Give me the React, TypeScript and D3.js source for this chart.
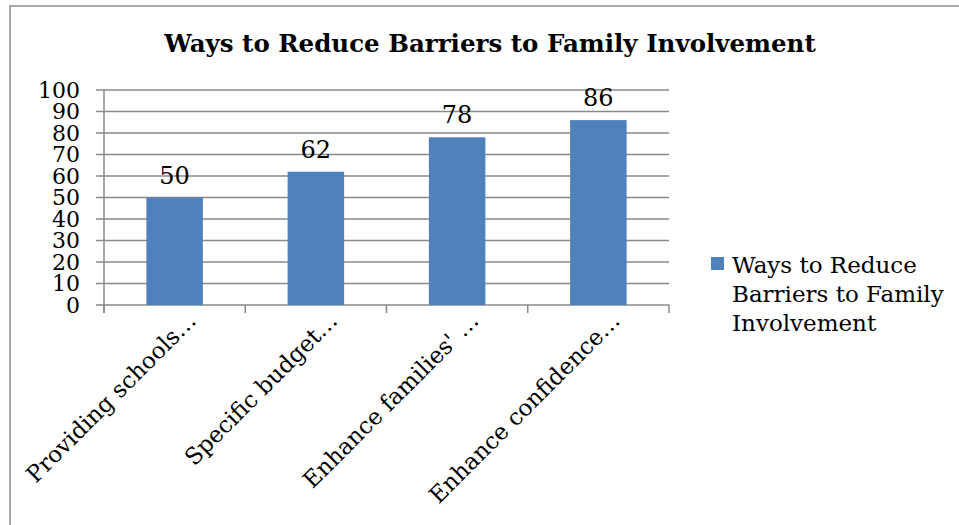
import React from "react";
import * as d3 from "d3";

const title = "Ways to Reduce Barriers to Family Involvement";
const categories = [
  "Providing schools…",
  "Specific budget…",
  "Enhance families' …",
  "Enhance confidence…",
];
const values = [50, 62, 78, 86];
const yTicks = [0, 10, 20, 30, 40, 50, 60, 70, 80, 90, 100];
const legendLines = ["Ways to Reduce", "Barriers to Family", "Involvement"];

const W = 959;
const H = 525;
const plot = { left: 104, right: 669, top: 90, bottom: 305 };
const FONT = "'DejaVu Serif', Georgia, serif";
const GRID = "#8a8a8a";
const BAR = "#4f81bd";

export default function App() {
  const x = d3
    .scaleBand<string>()
    .domain(categories)
    .range([plot.left, plot.right])
    .paddingInner(0.6)
    .paddingOuter(0.3);
  const y = d3.scaleLinear().domain([0, 100]).range([plot.bottom, plot.top]);
  const step = x.step();
  const boundaries = d3.range(categories.length + 1).map((i) => plot.left + i * step);

  return (
    <svg
      width={W}
      height={H}
      style={{ position: "absolute", left: 0, top: 0, background: "#fff" }}
      fontFamily={FONT}
    >
      <rect x={10} y={6} width={980} height={560} fill="#fff" stroke="#8c8c8c" strokeWidth={1.5} />
      <text x={490} y={52} textAnchor="middle" fontSize={24.5} fontWeight="bold" fill="#000">
        {title}
      </text>
      {/* gridlines */}
      {yTicks.map((t) => (
        <line key={"g" + t} x1={96} x2={plot.right} y1={y(t)} y2={y(t)} stroke={GRID} strokeWidth={1.5} />
      ))}
      {/* y axis */}
      <line x1={plot.left} x2={plot.left} y1={plot.top} y2={plot.bottom + 8} stroke={GRID} strokeWidth={1.5} />
      {boundaries.map((b, i) => (
        <line key={"xt" + i} x1={b} x2={b} y1={plot.bottom} y2={plot.bottom + 8} stroke={GRID} strokeWidth={1.5} />
      ))}
      {/* y tick labels */}
      {yTicks.map((t) => (
        <text key={"yl" + t} x={80} y={y(t)} dy="0.36em" textAnchor="end" fontSize={22} fill="#000">
          {t}
        </text>
      ))}
      {/* bars */}
      {categories.map((c, i) => (
        <rect key={"b" + i} x={x(c)} y={y(values[i])} width={x.bandwidth()} height={plot.bottom - y(values[i])} fill={BAR} />
      ))}
      {/* data labels */}
      {categories.map((c, i) => (
        <text key={"d" + i} x={(x(c) as number) + x.bandwidth() / 2} y={y(values[i]) - 14} textAnchor="middle" fontSize={24} fill="#000">
          {values[i]}
        </text>
      ))}
      {/* x labels */}
      {categories.map((c, i) => {
        const cx = (x(c) as number) + x.bandwidth() / 2 + 23;
        const cy = 322;
        return (
          <text key={"xl" + i} transform={`translate(${cx},${cy}) rotate(-45)`} textAnchor="end" fontSize={23} fill="#000">
            {c}
          </text>
        );
      })}
      {/* legend */}
      <rect x={711} y={257} width={13} height={13} fill={BAR} />
      {legendLines.map((l, i) => (
        <text key={"lg" + i} x={732} y={273 + i * 29} fontSize={23} fill="#000">
          {l}
        </text>
      ))}
    </svg>
  );
}
